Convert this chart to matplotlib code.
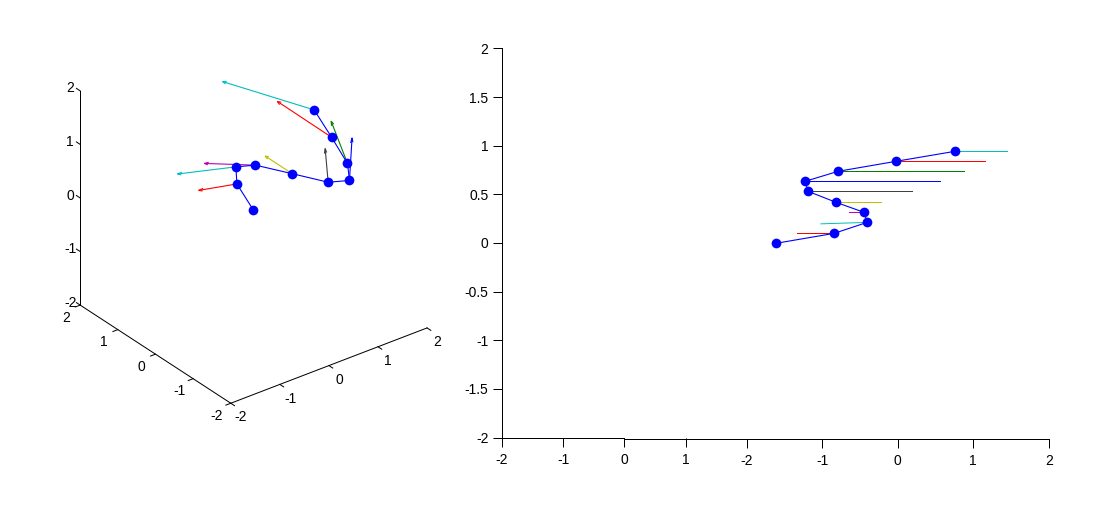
import numpy as np
import matplotlib
matplotlib.use("Agg")
import matplotlib.pyplot as plt

# left panel: chain of joints in 3d
x3 = [1.234, 1.588, 1.913, 1.953, 1.519, 0.788, 0.037, -0.361, -0.341, -0.004]
y3 = [0, 0, 0, 0, 0, 0, 0, 0, 0, 0]
z3 = [1.423, 0.789, 0.185, -0.147, -0.027, 0.389, 0.813, 0.921, 0.595, -0.013]
u3 = [-1.868, -1.105, -0.333, 0.053, -0.061, -0.554, -1.042, -1.192, -0.780]
v3 = [0, 0, 0, 0, 0, 0, 0, 0, 0]
w3 = [1.186, 1.057, 0.906, 0.777, 0.650, 0.525, 0.398, 0.285, 0.153]

# right panel: same chain in 2d
x2 = [0.759, -0.023, -0.791, -1.228, -1.188, -0.817, -0.446, -0.406, -0.844, -1.612]
y2 = [0.943, 0.840, 0.737, 0.634, 0.531, 0.418, 0.315, 0.212, 0.099, -0.003]
u2 = [0.685, 1.175, 1.665, 1.784, 1.374, 0.592, -0.203, -0.613, -0.494]
v2 = [0, 0, 0, 0, 0, 0, 0, -0.015, 0]

ticks3 = [-2, -1, 0, 1, 2]
yticks2 = [-2, -1.5, -1, -0.5, 0, 0.5, 1, 1.5, 2]
colors = ["#00bfbf", "#ff0000", "#007f00", "#0000ff", "#404040",
          "#bfbf00", "#bf00bf", "#00bfbf", "#ff0000"]

plt.rcParams["font.family"] = ["Liberation Sans", "DejaVu Sans"]
plt.rcParams["font.size"] = 10
plt.rcParams["text.antialiased"] = True
plt.rcParams["lines.antialiased"] = True
plt.rcParams["patch.antialiased"] = False

W, H = 1101, 507
fig = plt.figure(figsize=(W / 100, H / 100), dpi=100)


def rect(left, top, right, bottom):
    return [left / W, (H - bottom) / H, (right - left) / W, (bottom - top) / H]


# 3d view, same angles as matlab default view(-37.5, 30)
ax3 = fig.add_axes(rect(40, 7, 456, 423), projection="3d", proj_type="ortho")
ax3.view_init(elev=30, azim=-127.5)
ax3.set_box_aspect((1, 1, 1))
ax3.set_xlim(-2, 2)
ax3.set_ylim(-2, 2)
ax3.set_zlim(-2, 2)
ax3.set_axis_off()
ax3.computed_zorder = False
ax3.patch.set_alpha(0)

k = dict(color="k", lw=0.72, zorder=1)
ax3.plot([-2, 2], [-2, -2], [-2, -2], **k)
ax3.plot([-2, -2], [-2, 2], [-2, -2], **k)
ax3.plot([-2, -2], [2, 2], [-2, 2], **k)
for t in ticks3:
    ax3.plot([t, t], [-2, -2.1], [-2, -2], **k)
    ax3.plot([-2, -2.1], [t, t], [-2, -2], **k)
    ax3.plot([-2, -2], [2, 2.1], [t, t], **k)
    ax3.text(t, -2.27, -2.14, str(t), ha="center", va="center")
    ax3.text(-2.28, t, -2.14, str(t), ha="center", va="center")
    ax3.text(-2.05, 2.2, t - 0.03, str(t), ha="center", va="center")

for i in range(len(u3)):
    length = np.sqrt(u3[i] ** 2 + v3[i] ** 2 + w3[i] ** 2)
    ax3.quiver(x3[i], y3[i], z3[i], u3[i], v3[i], w3[i], color=colors[i],
               linewidth=0.8, arrow_length_ratio=0.09 / length, zorder=2)
ax3.plot(x3, y3, z3, color="#0000ff", lw=0.8, marker="o", ms=7, mew=0, zorder=3)

# 2d panel is really two overlapping axes, x ticks read -2 -1 0 1 -2 -1 0 1 2
ax_l = fig.add_axes(rect(501.8, 48.5, 746.8, 437.5))
ax_r = fig.add_axes(rect(624.8, 48.5, 1048.8, 437.5))
ax_l.set_xlim(-2, 2)
ax_l.set_ylim(-2, 2)
ax_r.set_xlim(-2 - (746.8 - 624.8) / 75.5, 2)
ax_r.set_ylim(-2, 2)
ax_r.patch.set_alpha(0)
for side in ["top", "right"]:
    ax_l.spines[side].set_visible(False)
    ax_r.spines[side].set_visible(False)
ax_r.spines["left"].set_visible(False)
ax_r.spines["bottom"].set_position(("outward", 0.72))
ax_l.spines["bottom"].set_bounds(-2, 0)
ax_l.set_xticks([-2, -1, 0, 1])
ax_l.set_yticks(yticks2)
ax_l.set_yticklabels(["%g" % t for t in yticks2])
ax_r.set_xticks(ticks3)
ax_r.set_xticklabels([str(t) for t in ticks3])
ax_l.set_xticklabels(["-2", "-1", "0", "1"])
ax_r.set_yticks([])
for a in (ax_l, ax_r):
    a.tick_params(length=6.5, width=0.72)
    a.tick_params(axis="x", pad=5)
    a.tick_params(axis="y", pad=3)
    for s in a.spines.values():
        s.set_linewidth(0.72)

for i in range(len(u2)):
    ax_r.plot([x2[i], x2[i] + u2[i]], [y2[i], y2[i] + v2[i]], color=colors[i], lw=0.72)
ax_r.plot(x2, y2, color="#0000ff", lw=0.8, marker="o", ms=7, mew=0)

fig.savefig("out.png", dpi=100)
